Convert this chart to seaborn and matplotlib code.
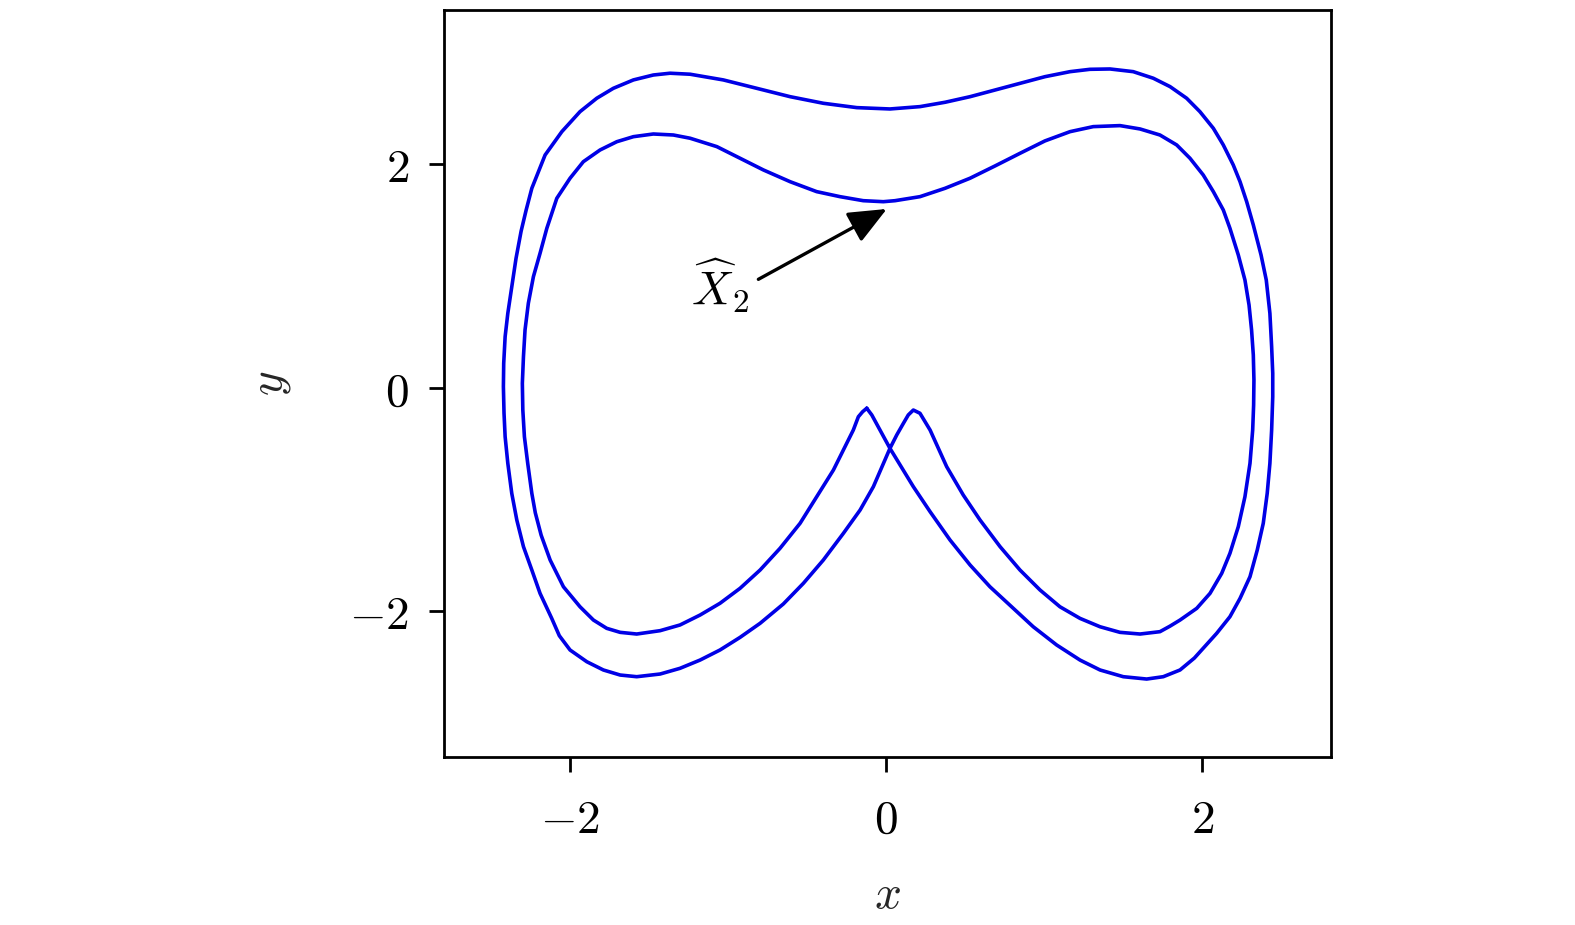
import matplotlib
matplotlib.use("Agg")
import matplotlib.pyplot as plt
import seaborn as sns
import pandas as pd

# Closed orbit.
# Part A: left cusp -> inner loop -> right cusp
inner_x = [-0.124, -0.150, -0.177, -0.209, -0.272, -0.335, -0.441, -0.546, -0.673, -0.799,
           -0.926, -1.053, -1.179, -1.306, -1.432, -1.580, -1.685, -1.770, -1.854, -1.939,
           -2.044, -2.128, -2.185, -2.222, -2.244, -2.270, -2.291, -2.301, -2.304, -2.297,
           -2.287, -2.266, -2.234, -2.192, -2.149, -2.086, -2.002, -1.918, -1.812, -1.706,
           -1.601, -1.475, -1.348, -1.242, -1.073, -0.926, -0.778, -0.609, -0.441, -0.293,
           -0.146, -0.019, 0.055, 0.213, 0.372, 0.530, 0.688, 0.846, 1.004, 1.163,
           1.310, 1.479, 1.606, 1.732, 1.838, 1.922, 2.006, 2.070, 2.133, 2.175,
           2.228, 2.270, 2.296, 2.312, 2.323, 2.327, 2.325, 2.319, 2.302, 2.270,
           2.228, 2.175, 2.123, 2.049, 1.965, 1.859, 1.795, 1.732, 1.606, 1.479,
           1.353, 1.226, 1.099, 0.973, 0.846, 0.720, 0.593, 0.487, 0.382, 0.277,
           0.213, 0.171]
inner_y = [-0.184, -0.215, -0.260, -0.379, -0.558, -0.737, -0.976, -1.214, -1.438, -1.632,
           -1.796, -1.930, -2.035, -2.124, -2.175, -2.205, -2.190, -2.154, -2.080, -1.961,
           -1.782, -1.543, -1.320, -1.120, -0.946, -0.677, -0.439, -0.200, 0.039, 0.278,
           0.517, 0.756, 0.994, 1.203, 1.427, 1.695, 1.875, 2.023, 2.128, 2.202,
           2.247, 2.271, 2.262, 2.233, 2.158, 2.054, 1.949, 1.844, 1.755, 1.710,
           1.674, 1.665, 1.674, 1.710, 1.785, 1.875, 1.985, 2.098, 2.209, 2.292,
           2.337, 2.346, 2.316, 2.262, 2.173, 2.054, 1.904, 1.755, 1.591, 1.427,
           1.188, 0.964, 0.740, 0.517, 0.293, 0.069, -0.155, -0.379, -0.677, -0.976,
           -1.244, -1.483, -1.662, -1.841, -1.975, -2.080, -2.135, -2.184, -2.205, -2.190,
           -2.140, -2.065, -1.961, -1.811, -1.632, -1.423, -1.184, -0.961, -0.707, -0.379,
           -0.229, -0.200]
# Part B: right cusp -> outer loop -> back to left cusp
outer_x = [0.139, 0.108, 0.066, 0.023, -0.029, -0.082, -0.166, -0.272, -0.399, -0.525,
           -0.652, -0.799, -0.926, -1.053, -1.179, -1.306, -1.432, -1.580, -1.685, -1.791,
           -1.896, -2.002, -2.070, -2.118, -2.192, -2.244, -2.297, -2.339, -2.371, -2.396,
           -2.413, -2.420, -2.424, -2.422, -2.413, -2.396, -2.371, -2.344, -2.312, -2.280,
           -2.244, -2.160, -2.054, -1.939, -1.833, -1.728, -1.601, -1.475, -1.369, -1.242,
           -1.032, -0.820, -0.609, -0.399, -0.187, 0.023, 0.213, 0.372, 0.530, 0.688,
           0.846, 1.004, 1.163, 1.289, 1.416, 1.563, 1.690, 1.796, 1.901, 1.985,
           2.070, 2.133, 2.196, 2.239, 2.281, 2.323, 2.372, 2.405, 2.428, 2.439,
           2.446, 2.446, 2.439, 2.428, 2.411, 2.386, 2.348, 2.302, 2.239, 2.175,
           2.091, 2.006, 1.950, 1.859, 1.753, 1.648, 1.500, 1.353, 1.226, 1.078,
           0.930, 0.804, 0.656, 0.530, 0.403, 0.277, 0.171, 0.087, 0.023, -0.040,
           -0.092, -0.124]
outer_y = [-0.244, -0.319, -0.423, -0.543, -0.713, -0.886, -1.095, -1.304, -1.543, -1.751,
           -1.936, -2.109, -2.235, -2.348, -2.438, -2.512, -2.563, -2.587, -2.572, -2.527,
           -2.453, -2.348, -2.220, -2.065, -1.841, -1.632, -1.423, -1.185, -0.946, -0.677,
           -0.439, -0.229, 0.009, 0.218, 0.457, 0.666, 0.904, 1.158, 1.400, 1.590,
           1.785, 2.083, 2.292, 2.471, 2.591, 2.680, 2.755, 2.799, 2.815, 2.806,
           2.755, 2.680, 2.605, 2.546, 2.507, 2.495, 2.516, 2.555, 2.605, 2.665,
           2.725, 2.784, 2.829, 2.850, 2.853, 2.829, 2.770, 2.695, 2.591, 2.471,
           2.322, 2.173, 1.994, 1.844, 1.665, 1.457, 1.188, 0.964, 0.666, 0.367,
           0.129, -0.081, -0.379, -0.677, -0.946, -1.214, -1.453, -1.692, -1.886, -2.050,
           -2.199, -2.333, -2.420, -2.527, -2.587, -2.608, -2.587, -2.527, -2.438, -2.303,
           -2.140, -1.975, -1.782, -1.587, -1.363, -1.110, -0.886, -0.692, -0.543, -0.379,
           -0.244, -0.184]

tick_vals = [-2, 0, 2]
tick_labels = ["$-2$", "$0$", "$2$"]
annot_label = r"$\widehat{X}_2$"
annot_tip = (0.003, 1.600)
annot_tail = (-0.810, 0.970)
annot_text_pos = (-1.053, 0.74)

sns.set_theme(style="white")
plt.rcParams["mathtext.fontset"] = "cm"
plt.rcParams["font.family"] = ["DejaVu Serif"]

fig = plt.figure(figsize=(15.75, 9.25), dpi=100)
ax = fig.add_axes([0.2816, 0.1816, 0.5635, 0.8076])

df = pd.DataFrame({"x": inner_x + outer_x, "y": inner_y + outer_y})
sns.lineplot(data=df, x="x", y="y", sort=False, estimator=None, color="#0000e6",
             linewidth=2.6, ax=ax)

ax.set_xlim(-2.803, 2.815)
ax.set_ylim(-3.306, 3.381)
ax.set_xticks(tick_vals)
ax.set_xticklabels(tick_labels)
ax.set_yticks(tick_vals)
ax.set_yticklabels(tick_labels)
ax.tick_params(axis="both", which="both", direction="out", length=11, width=2,
               labelsize=34, color="black", labelcolor="black", bottom=True, left=True,
               top=False, right=False)
ax.tick_params(axis="x", pad=18)
ax.tick_params(axis="y", pad=14)
for s in ax.spines.values():
    s.set_visible(True)
    s.set_color("black")
    s.set_linewidth(2)

ax.set_xlabel("$x$", fontsize=34, labelpad=22)
ax.set_ylabel("$y$", fontsize=34, labelpad=40)
ax.grid(False)

ax.annotate("", xy=annot_tip, xytext=annot_tail,
            arrowprops=dict(arrowstyle="-|>,head_length=0.65,head_width=0.28",
                            color="black", lw=2.4, mutation_scale=36,
                            shrinkA=0, shrinkB=0))
ax.text(annot_text_pos[0], annot_text_pos[1], annot_label, fontsize=34,
        ha="center", va="baseline", color="black")

fig.savefig("out.png", dpi=100, facecolor="white")
